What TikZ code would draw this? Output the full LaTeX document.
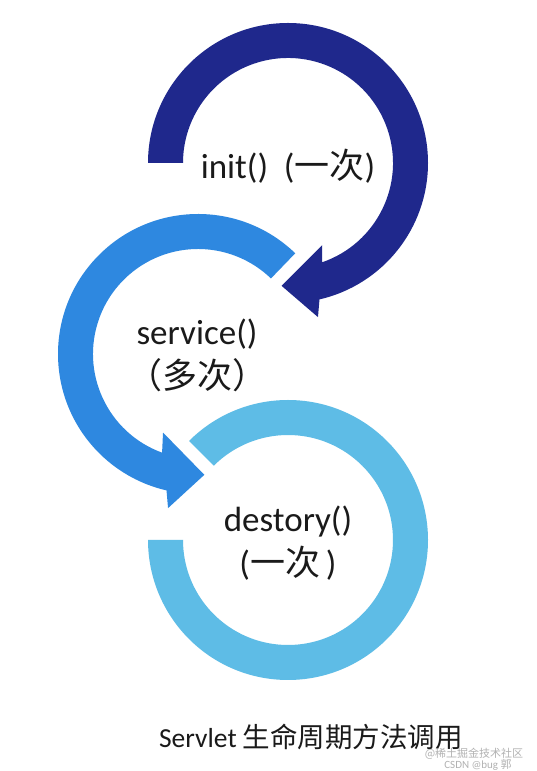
\documentclass[tikz,border=0pt]{standalone}
\usepackage{fontspec}
\setmainfont{Carlito}
\newfontfamily\cjk{Noto Sans CJK SC}
\definecolor{ringA}{RGB}{31,40,140}
\definecolor{ringB}{RGB}{46,136,224}
\definecolor{ringC}{RGB}{94,188,230}
\definecolor{txt}{RGB}{26,26,26}
\tikzset{
  lbl/.style={text=txt, align=center, inner sep=0pt, font=\fontsize{35}{44}\selectfont},
  captionstyle/.style={text=txt, inner sep=0pt, font=\fontsize{27.5}{30}\selectfont},
  wm/.style={text=black!30, inner sep=0pt, font=\fontsize{11}{13}\selectfont}
}
\begin{document}
\begin{tikzpicture}
\useasboundingbox[fill=white] (0,0) rectangle (536pt,771pt);
% bottom ring (no arrow head)
\begin{scope}[shift={(288pt,231pt)}]
\fill[ringC] (135:140pt) arc[start angle=135, end angle=-180, radius=140pt]
  -- (180:105pt) arc[start angle=-180, end angle=135, radius=105pt] -- cycle;
\end{scope}
% middle ring with arrow head
\begin{scope}[shift={(198pt,417pt)}]
\fill[ringB] (46:140pt) arc[start angle=46, end angle=257, radius=140pt]
  -- (259:157pt) -- (273:121pt) -- (246:86pt) -- (250:105pt)
  arc[start angle=250, end angle=46, radius=105pt] -- cycle;
\end{scope}
% top ring with arrow head
\begin{scope}[shift={(288pt,608pt)}]
\fill[ringA] (180:140pt) arc[start angle=180, end angle=-77, radius=140pt]
  -- (-79:157pt) -- (-93:123pt) -- (-67.5:89pt) -- (-71:105pt)
  arc[start angle=-71, end angle=180, radius=105pt] -- cycle;
\end{scope}
% labels
\node[lbl] (init) at (288pt,605pt) {init()\hspace{0.45em}({\cjk 一次})};
\node[lbl] (service) at (197pt,416pt) {service()\\{\cjk （多次）}};
\node[lbl] (destory) at (288pt,228pt) {destory()\\({\cjk 一次}\,)};
\node[captionstyle] (caption) at (311pt,34pt) {Servlet {\cjk 生命周期方法调用}};
\node[wm] (wm1) at (474pt,17pt) {{\cjk @稀土掘金技术社区}};
\node[wm] (wm2) at (478pt,6pt) {CSDN @bug {\cjk 郭}};
\end{tikzpicture}
\end{document}
